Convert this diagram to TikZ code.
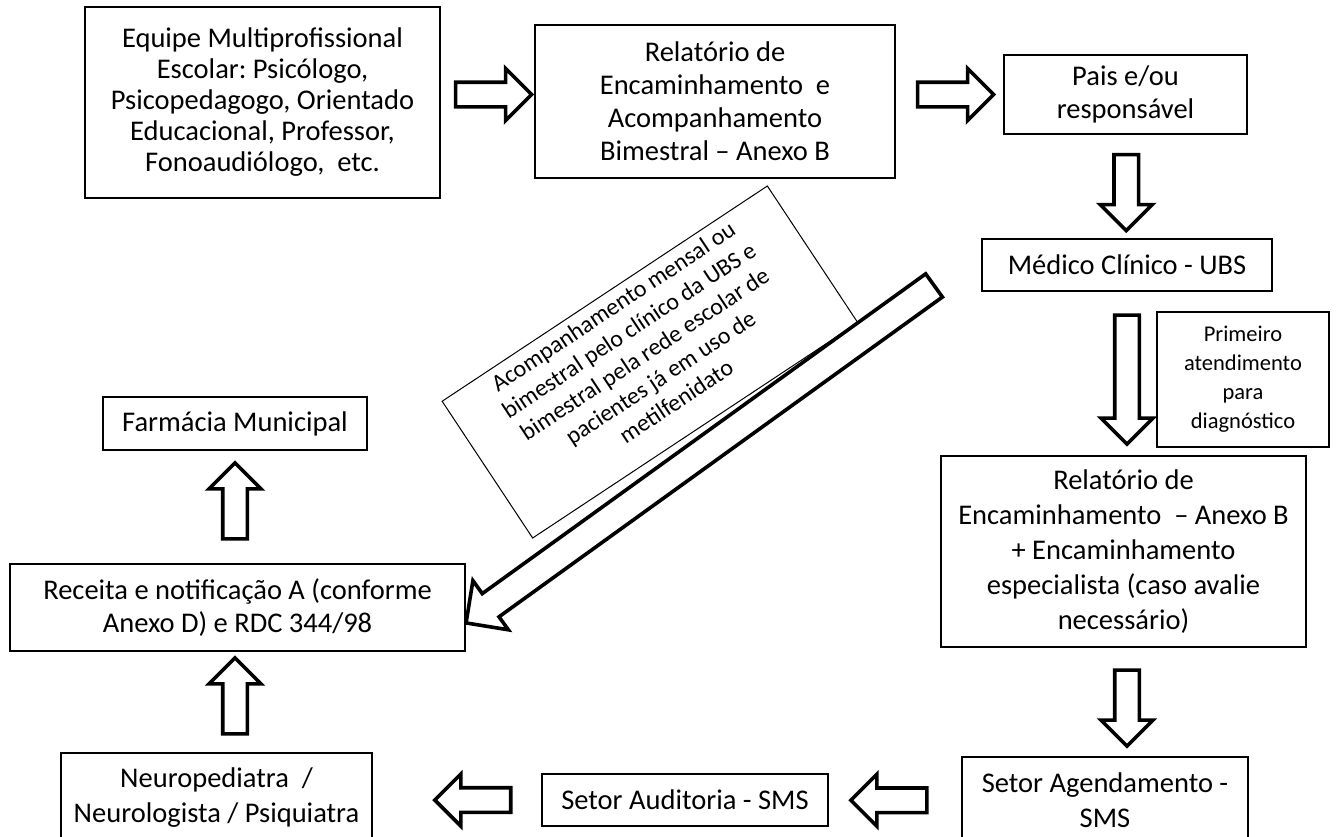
\documentclass[tikz,border=0pt]{standalone}
\usepackage{fontspec}
\setmainfont{Carlito}
\usetikzlibrary{shapes.arrows,calc}
\frenchspacing
\begin{document}
\begin{tikzpicture}[x=1pt,y=-1pt,
  box/.style={draw, line width=1.3pt, align=center, inner sep=0pt, font=\fontsize{28.5}{33}\selectfont},
  blockarrow/.style={single arrow, draw, line width=3.6pt, fill=white, inner xsep=0pt, inner ysep=10.5pt,
    minimum height=76pt, minimum width=48.5pt, single arrow head extend=13.75pt,
    single arrow head indent=0pt},
  bigarrow/.style={blockarrow, inner ysep=12.5pt, minimum height=577pt, minimum width=57pt, single arrow head extend=16pt},
]
\useasboundingbox (0,0) rectangle (1336,836);
\clip (0,0) rectangle (1336,836);

% boxes
\node[box, minimum width=355pt, minimum height=191pt, font=\fontsize{28.5}{31}\selectfont] (e1) at (262.5,102.5)
  {Equipe Multiprofissional\\Escolar: Psicólogo,\\Psicopedagogo, Orientado\\Educacional, Professor,\\Fonoaudiólogo,\ \ etc.};
\node[box, minimum width=360pt, minimum height=153pt] (r1) at (715,101.5)
  {Relatório de\\Encaminhamento\ \ e\\Acompanhamento\\Bimestral – Anexo B};
\node[box, minimum width=243pt, minimum height=79pt] (p) at (1125.5,94.5)
  {Pais e/ou\\responsável};
\node[box, minimum width=290pt, minimum height=52pt] (m) at (1127,265)
  {Médico Clínico - UBS};
\node[box, minimum width=172pt, minimum height=135pt, font=\fontsize{22.5}{29}\selectfont] (pa) at (1243,379.5)
  {Primeiro\\atendimento\\para\\diagnóstico};
\node[box, minimum width=365pt, minimum height=191pt, font=\fontsize{28.5}{35}\selectfont] (r2) at (1123.5,551.5)
  {Relatório de\\Encaminhamento\ \ – Anexo B\\+ Encaminhamento\\especialista (caso avalie\\necessário)};
\node[box, minimum width=286pt, minimum height=87pt, font=\fontsize{28.5}{35}\selectfont] (s) at (1105,800.5)
  {Setor Agendamento -\\SMS};
\node[box, minimum width=286pt, minimum height=52pt] (au) at (685,800)
  {Setor Auditoria - SMS};
\node[box, minimum width=311pt, minimum height=89pt, font=\fontsize{28.5}{35}\selectfont] (n) at (216.5,797.5)
  {Neuropediatra\ \ /\\Neurologista / Psiquiatra};
\node[box, minimum width=455pt, minimum height=87pt] (rc) at (237.5,607.5)
  {Receita e notificação A (conforme\\Anexo D) e RDC 344/98};
\node[box, minimum width=264pt, minimum height=53pt] (f) at (235,423.5)
  {Farmácia Municipal};

% rotated note
\node[draw, line width=1pt, rotate=33.5, minimum width=390pt, minimum height=164pt, align=center,
  inner sep=0pt, font=\fontsize{24}{28.5}\selectfont] (note) at (650,362)
  {Acompanhamento mensal ou\\bimestral pelo clínico da UBS e\\bimestral pela rede escolar de\\pacientes já em uso de\\metilfenidato\\[-8.5pt]\mbox{}};

% block arrows
\path (e1.east |- p.center) -- (r1.west |- p.center) node[midway, blockarrow] (a1) {};
\path (r1.east |- p.center) -- (p.west) node[midway, blockarrow] (a2) {};
\path (p.south) -- (m.north) node[midway, blockarrow, rotate=-90] (a3) {};
\path (m.south) -- (m.south |- r2.north) node[midway, blockarrow, rotate=-90, minimum height=129pt] (a4) {};
\path (m.south |- r2.south) -- (m.south |- s.north) node[midway, blockarrow, rotate=-90] (a5) {};
\path (s.west) -- (au.east) node[midway, blockarrow, rotate=180] (a6) {};
\path (au.west) -- (n.east |- au.west) node[pos=0.37, blockarrow, rotate=180] (a7) {};
\path (n.north -| f.south) -- (rc.south -| f.south) node[midway, blockarrow, rotate=90] (a8) {};
\path (rc.north -| f.south) -- (f.south) node[midway, blockarrow, rotate=90] (a9) {};

\coordinate (dtail) at (941.7,280);
\coordinate (dtip) at (470,620);
\path (dtail) -- (dtip) node[midway, bigarrow, rotate=215.8] (a10) {};
\end{tikzpicture}
\end{document}
